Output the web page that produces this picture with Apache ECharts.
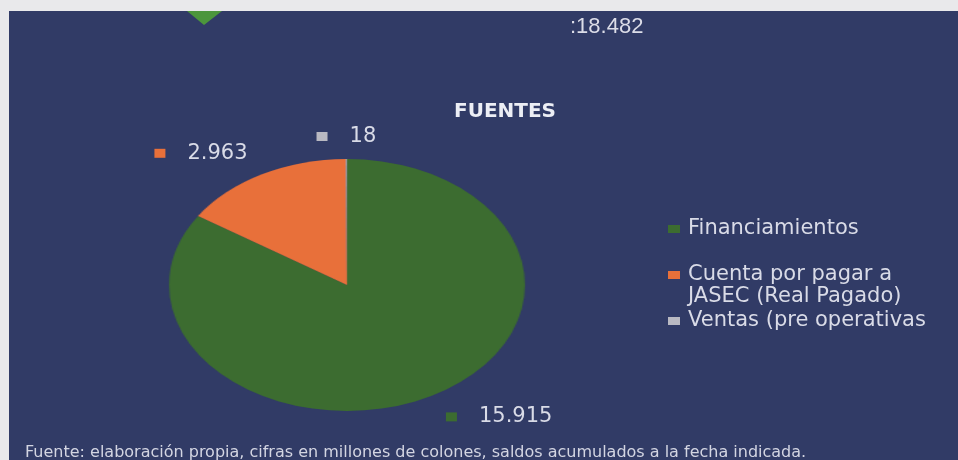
<!DOCTYPE html>
<html>
<head>
<meta charset="utf-8">
<script src="https://cdn.jsdelivr.net/npm/echarts@6/dist/echarts.min.js"></script>
<style>
html,body{margin:0;padding:0;background:#e9e9eb;}
#wrap{position:relative;width:958px;height:460px;overflow:hidden;}
#main{position:absolute;left:0;top:0;width:958px;height:460px;}
#pie{position:absolute;left:197px;top:0;width:300px;height:460px;transform:scaleX(1.4127);transform-origin:150px 285px;}
</style>
</head>
<body>
<div id="wrap"><div id="main"></div><div id="pie"></div></div>
<script>
// ---- data ----
const categories = ['Financiamientos', 'Cuenta por pagar a JASEC (Real Pagado)', 'Ventas (pre operativas'];
const values = [15915, 2963, 18];
const colors = ['#3c6c30', '#e8703a', '#b9b9c2'];
const headerValue = ':18.482';
const titleText = 'FUENTES';
const footnote = 'Fuente: elaboración propia, cifras en millones de colones, saldos acumulados a la fecha indicada.';

// ---- layout constants ----
const CX = 347, CY = 285, RX = 178, RY = 126, GX = 30, GY = 12;
const TXT = '#d9dbe7';
const FONT = 'DejaVu Sans';

const fmt = v => String(v).replace(/\B(?=(\d{3})+(?!\d))/g, '.');
const total = values.reduce((a, b) => a + b, 0);
const pieData = categories.map((n, i) => ({ name: n, value: values[i], itemStyle: { color: colors[i] } }));

// stretched pie (elliptical like the reference)
const pie = echarts.init(document.getElementById('pie'));
pie.setOption({
  animation: false,
  series: [{
    type: 'pie', center: ['50%', CY], radius: RY, startAngle: 90, clockwise: true,
    silent: true, label: { show: false }, labelLine: { show: false },
    itemStyle: { borderWidth: 0 }, data: pieData
  }]
});

const rich = { g: { width: 22 }, v: { color: TXT, fontSize: 21, fontFamily: FONT } };
colors.forEach((c, i) => { rich['k' + i] = { backgroundColor: c, width: 11, height: 9 }; });

const legendBase = {
  orient: 'vertical', left: 668, padding: 0, icon: 'rect', itemWidth: 12, itemHeight: 8,
  selectedMode: false,
  textStyle: { color: TXT, fontSize: 21, fontFamily: FONT, lineHeight: 22, padding: [0, 0, 0, 3] }
};

const main = echarts.init(document.getElementById('main'));
main.setOption({
  animation: false,
  backgroundColor: '#e9e9eb',
  graphic: [
    { type: 'rect', z: -10, silent: true, shape: { x: 9, y: 11, width: 949, height: 449 }, style: { fill: '#313b66' } },
    { type: 'polygon', silent: true, shape: { points: [[187, 11], [222, 11], [204, 25]] }, style: { fill: '#4c963c' } },
    { type: 'text', x: 570, y: 27, style: { text: headerValue, font: '22px "Liberation Sans"', fill: '#dcdde8', verticalAlign: 'middle' } },
    { type: 'text', x: 505, y: 112, style: { text: titleText, font: 'bold 20px "DejaVu Sans"', fill: '#eceef5', align: 'center', verticalAlign: 'middle' } },
    { type: 'text', x: 25, y: 453, style: { text: footnote, font: '16px "DejaVu Sans"', fill: '#d3d5e2', verticalAlign: 'middle' } }
  ],
  legend: [
    Object.assign({}, legendBase, { top: 218, data: [{ name: categories[0], itemStyle: { color: colors[0] } }] }),
    Object.assign({}, legendBase, {
      top: 242,
      formatter: n => '\n' + n.replace(' JASEC', '\nJASEC'),
      data: [{ name: categories[1], itemStyle: { color: colors[1] } }]
    }),
    Object.assign({}, legendBase, { top: 310, data: [{ name: categories[2], itemStyle: { color: colors[2] } }] })
  ],
  series: [{
    type: 'pie', center: [CX, CY], radius: RY, startAngle: 90, clockwise: true, silent: true,
    itemStyle: { color: 'rgba(0,0,0,0)', borderWidth: 0 },
    label: {
      show: true, position: 'outside',
      formatter: p => '{k' + p.dataIndex + '|}{g|}{v|' + fmt(p.value) + '}',
      rich: rich
    },
    labelLine: { show: false },
    labelLayout: function (p) {
      let acc = 0;
      for (let i = 0; i < p.dataIndex; i++) acc += values[i];
      const mid = (acc + values[p.dataIndex] / 2) / total * 2 * Math.PI;
      const dx = Math.sin(mid), dy = -Math.cos(mid);
      return {
        x: CX + dx * (RX + GX),
        y: CY + dy * (RY + GY),
        align: dx < -0.3 ? 'right' : (dx > 0.3 ? 'left' : 'center'),
        verticalAlign: dy < -0.3 ? 'bottom' : (dy > 0.3 ? 'top' : 'middle')
      };
    },
    data: pieData.map(d => ({ name: d.name, value: d.value }))
  }]
});
</script>
</body>
</html>
